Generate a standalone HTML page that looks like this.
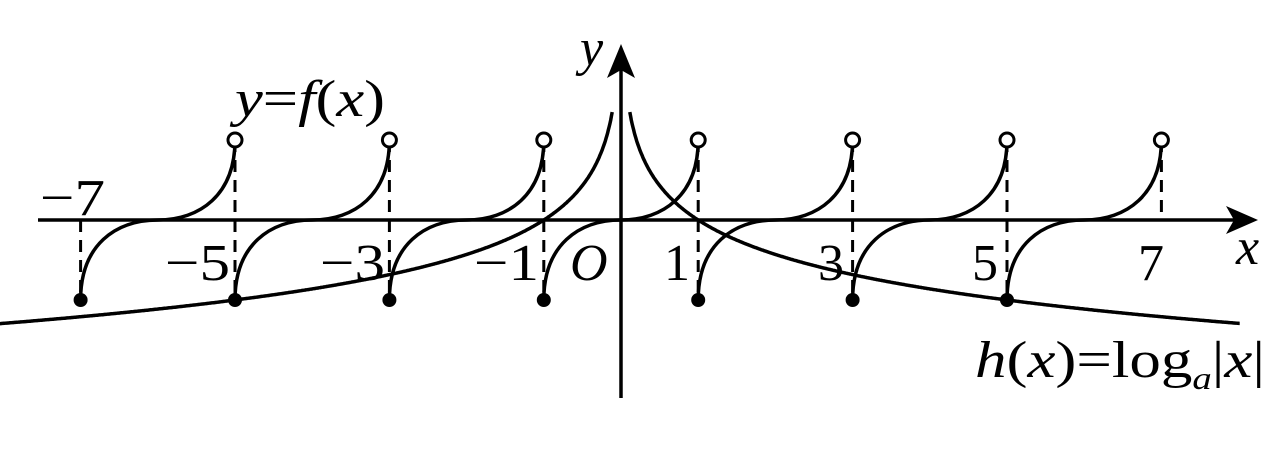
<!DOCTYPE html>
<html><head><meta charset="utf-8"><style>
html,body{margin:0;padding:0;background:#fff;}
svg{display:block}
text{font-family:"Liberation Serif",serif;fill:#000}
</style></head><body>
<svg id="s" width="1270" height="463" viewBox="0 0 1270 463" xmlns="http://www.w3.org/2000/svg">
<g id="g" stroke="#000" stroke-width="3.5" fill="none">
<line x1="38" y1="220" x2="1240" y2="220"/>
<line x1="621" y1="398" x2="621" y2="60"/>
</g>
<polygon points="1258,220 1226,206 1234,220 1226,234" fill="#000"/>
<polygon points="621,44 607,78 621,70 635,78" fill="#000"/>
<text x="580" y="65" font-size="52" font-style="italic">y</text>
<text x="235" y="116" font-size="52" textLength="150" lengthAdjust="spacingAndGlyphs"><tspan font-style="italic">y</tspan>=<tspan font-style="italic">f</tspan>(<tspan font-style="italic">x</tspan>)</text>
<text x="40" y="215" font-size="52" textLength="65" lengthAdjust="spacingAndGlyphs">−7</text>
<text x="165" y="280" font-size="52" textLength="65" lengthAdjust="spacingAndGlyphs">−5</text>
<text x="320" y="280" font-size="52" textLength="65" lengthAdjust="spacingAndGlyphs">−3</text>
<text x="474" y="280" font-size="52" textLength="65" lengthAdjust="spacingAndGlyphs">−1</text>
<text x="570" y="280" font-size="52" font-style="italic">O</text>
<text x="664" y="280" font-size="52">1</text>
<text x="818" y="280" font-size="52">3</text>
<text x="972" y="280" font-size="52">5</text>
<text x="1138" y="280" font-size="52">7</text>
<text x="1236" y="264" font-size="52" font-style="italic">x</text>
<text x="975" y="377" font-size="52" textLength="290" lengthAdjust="spacingAndGlyphs"><tspan font-style="italic">h</tspan>(<tspan font-style="italic">x</tspan>)=log<tspan font-size="32" font-style="italic" dy="12">a</tspan><tspan dy="-12">|</tspan><tspan font-style="italic">x</tspan>|</text>
</svg>
<script>
var ns="http://www.w3.org/2000/svg",g=document.getElementById('g'),s=document.getElementById('s');
function X(x){return 621+77.2*x;}
function el(t,a,p){var e=document.createElementNS(ns,t);for(var k in a)e.setAttribute(k,a[k]);(p||g).appendChild(e);return e;}
[-7,-5,-3,-1,1,3,5,7].forEach(function(k){
 var y1=k==-7?220:140,y2=k==7?220:300;
 el('line',{x1:X(k),y1:y1,x2:X(k),y2:y2,'stroke-dasharray':'12,8','stroke-width':3});
});
for(var k=-7;k<=5;k+=2){
 var x0=X(k),m=X(k+1),x1=X(k+2);
 el('path',{d:'M'+x0+',300 C'+x0+',245 '+(x0+35)+',220 '+m+',220 C'+(m+42)+',220 '+x1+',195 '+x1+',140'});
 el('circle',{cx:x0,cy:300,r:7,fill:'#000',stroke:'none'},s);
 el('circle',{cx:x1,cy:140,r:7,fill:'#fff','stroke-width':3});
}
function h(x){return 220+80*Math.log(x)/Math.log(5);}
var pr=[],pl=[];
for(var x=0.114;x<=8.2;x+=0.01){var px=X(x);if(px>1240)break;pr.push(px.toFixed(1)+','+h(x).toFixed(1));}
for(var x=0.114;x<=8.2;x+=0.01){var px=X(-x);if(px<0)break;pl.push(px.toFixed(1)+','+h(x).toFixed(1));}
pl.push('0,'+h(621/77.2).toFixed(1));
el('polyline',{points:pr.join(' ')});
el('polyline',{points:pl.join(' ')});
</script>
</body></html>
